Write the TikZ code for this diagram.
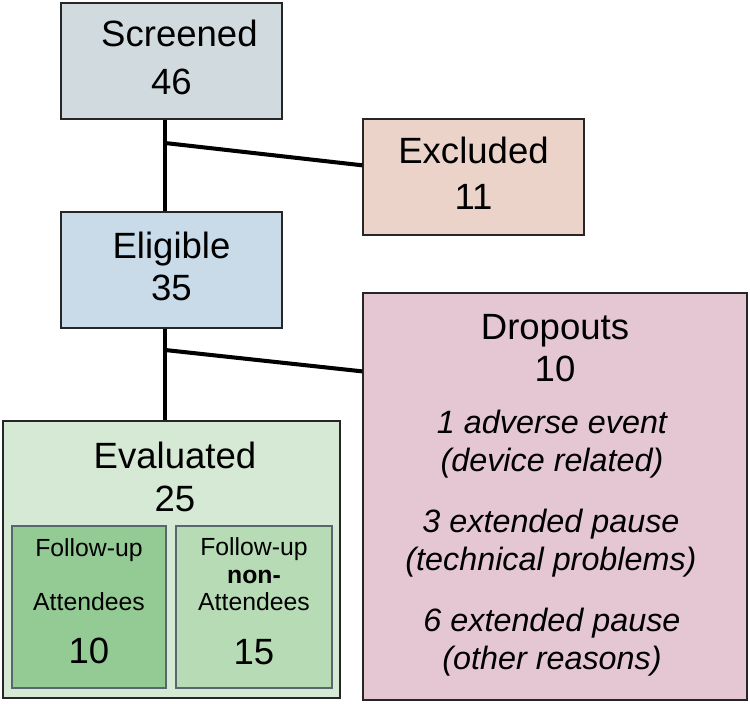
\documentclass[tikz,border=0pt]{standalone}
\usepackage{fontspec}
\setmainfont{Liberation Sans}

\definecolor{scrfill}{RGB}{209,219,223}
\definecolor{eligfill}{RGB}{201,219,232}
\definecolor{exclfill}{RGB}{235,211,201}
\definecolor{dropfill}{RGB}{228,199,210}
\definecolor{evalfill}{RGB}{214,233,213}
\definecolor{attfill}{RGB}{148,203,148}
\definecolor{nonattfill}{RGB}{182,219,181}
\definecolor{innerline}{RGB}{88,102,110}

\begin{document}
\begin{tikzpicture}[x=0.02cm, y=-0.02cm]
    \tikzstyle{box}=[draw=black!85, line width=0.8pt, inner sep=0pt, align=center, text depth=4.5pt, font=\fontsize{20.8}{24}\selectfont]
    \tikzstyle{inner}=[draw=innerline, line width=1.3pt, inner sep=0pt, align=center, text depth=6.8pt, font=\fontsize{14.1}{15.4}\selectfont]
    \tikzstyle{title}=[inner sep=0pt, align=center, font=\fontsize{20.8}{24}\selectfont]
    \tikzstyle{reason}=[inner sep=0pt, align=center, font=\fontsize{18.4}{21.3}\selectfont\itshape]
    \tikzstyle{link}=[line width=2.3pt]

    \useasboundingbox (0,0) rectangle (750,703);

    \node[box, fill=scrfill, minimum width=4.42cm, minimum height=2.32cm] (scr) at (171.5,61) {\hspace*{9pt}Screened\\[3pt]46};
    \node[box, fill=eligfill, minimum width=4.42cm, minimum height=2.32cm] (elig) at (171.5,270) {Eligible\\35};
    \node[box, fill=exclfill, minimum width=4.42cm, minimum height=2.32cm] (excl) at (473.5,177) {Excluded\\[2pt]11};
    \node[box, fill=dropfill, minimum width=7.68cm, minimum height=8.14cm] (drop) at (555,496.5) {};
    \node[box, fill=evalfill, minimum width=6.74cm, minimum height=5.54cm] (eval) at (171.5,559.5) {};

    \node[title] (droptitle) at (555,348) {Dropouts\\10};
    \node[reason] (r1) at (552,444) {1 adverse event\\(device related)};
    \node[reason] (r2) at (551,543) {3 extended pause\\(technical problems)};
    \node[reason] (r3) at (552,642) {6 extended pause\\(other reasons)};

    \node[title] (evaltitle) at (175,477) {Evaluated\\25};
    \node[inner, fill=attfill, minimum width=3.08cm, minimum height=3.24cm] (att) at (89,607)
        {Follow-up\\[15.3pt]Attendees\\[15.3pt]{\fontsize{20.8}{24}\selectfont 10}};
    \node[inner, fill=nonattfill, minimum width=3.12cm, minimum height=3.24cm] (nonatt) at (254,607)
        {Follow-up\\\textbf{non-}\\Attendees\\[15.3pt]{\fontsize{20.8}{24}\selectfont 15}};

    \coordinate (b1) at (165,143);
    \coordinate (b2) at (165,350);

    \draw[link] (scr.south -| b1) -- (elig.north -| b1);
    \draw[link] (b1) -- (excl.174);
    \draw[link] (elig.south -| b2) -- (eval.north -| b2);
    \draw[link] (b2) -- (drop.147.7);
\end{tikzpicture}
\end{document}
